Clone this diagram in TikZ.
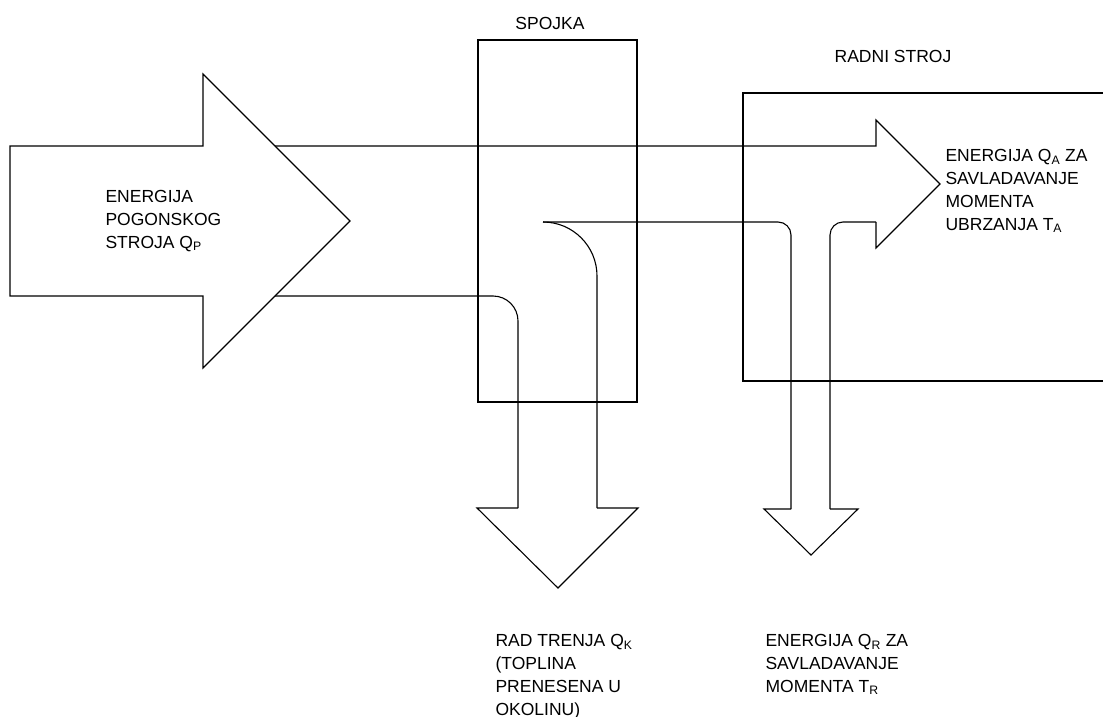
\documentclass[tikz,border=0pt]{standalone}
\usepackage{fontspec}
\setmainfont{Liberation Sans}
\usetikzlibrary{calc, positioning}

\begin{document}
\begin{tikzpicture}[x=1pt,y=-1pt,line width=1.1pt,
  lbl/.style={anchor=north west,inner sep=0pt,align=left,font=\fontsize{17.5}{22.8}\selectfont},
  title/.style={inner sep=0pt,font=\fontsize{17.5}{22.8}\selectfont}]
\useasboundingbox (0,0) rectangle (1103,717);

\coordinate (inTL) at (10,146);
\coordinate (inBL) at (10,296);
\coordinate (inT) at (203,146);
\coordinate (inB) at (203,296);
\coordinate (inHT) at (203,74);
\coordinate (inHB) at (203,368);
\coordinate (inTip) at (350,221);
\coordinate (flowT) at (275,146);
\coordinate (flowB) at (275,296);

\coordinate (outT) at (876,146);
\coordinate (outB) at (876,222);
\coordinate (outHT) at (876,120);
\coordinate (outHB) at (876,248);
\coordinate (outTip) at (940,184);

\coordinate (splitL) at (543,222);

\coordinate (rL) at (791,509);
\coordinate (rR) at (830,509);
\coordinate (rHL) at (764,509);
\coordinate (rHR) at (858,509);
\coordinate (rTip) at (811,555);

\coordinate (kL) at (518,508);
\coordinate (kR) at (597,508);
\coordinate (kHL) at (477,508);
\coordinate (kHR) at (638,508);
\coordinate (kTip) at (558,588);

\draw (inTL) -- (inT) -- (inHT) -- (inTip) -- (inHB) -- (inB) -- (inBL) -- cycle;

\draw (478,40) rectangle (637,402);
\draw (1104,93) -- (743,93) -- (743,381) -- (1104,381);

\draw (flowT) -- (outT) -- (outHT) -- (outTip) -- (outHB) -- (outB);
\draw[rounded corners=13pt] (outB) -- (rR |- outB) -- (rR);
\draw (rR) -- (rHR) -- (rTip) -- (rHL) -- (rL);
\draw[rounded corners=13pt] (rL) -- (rL |- outB) -- (splitL);
\draw[rounded corners=54pt] (splitL) -- (kR |- splitL) -- (kR);
\draw (kR) -- (kHR) -- (kTip) -- (kHL) -- (kL);
\draw[rounded corners=25pt] (kL) -- (kL |- flowB) -- (flowB);

\node[title] (spojka) at (550,23) {SPOJKA};
\node[title] (radni) at (893,56) {RADNI STROJ};
\node[lbl] (qp) at (105,190) {ENERGIJA\\POGONSKOG\\STROJA Q\textsubscript{P}};
\node[lbl] (qa) at (945,149) {ENERGIJA Q\textsubscript{A} ZA\\SAVLADAVANJE\\MOMENTA\\UBRZANJA T\textsubscript{A}};
\node[lbl] (qk) at (495,634) {RAD TRENJA Q\textsubscript{K}\\(TOPLINA\\PRENESENA U\\OKOLINU)};
\node[lbl] (qr) at (765,634) {ENERGIJA Q\textsubscript{R} ZA\\SAVLADAVANJE\\MOMENTA T\textsubscript{R}};
\end{tikzpicture}
\end{document}
